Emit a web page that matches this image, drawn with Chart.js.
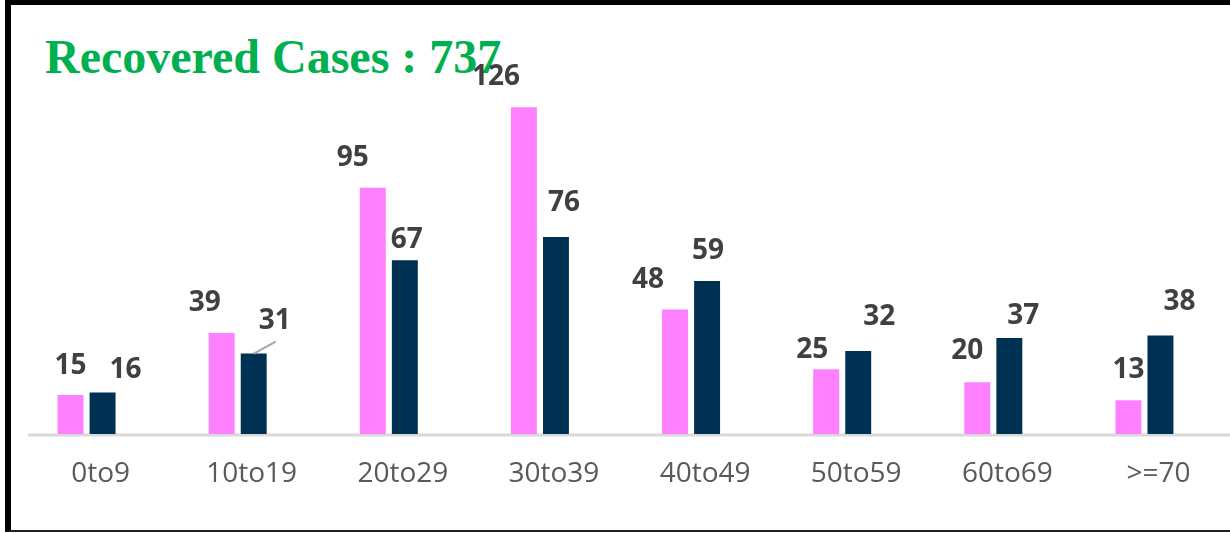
<!DOCTYPE html>
<html>
<head>
<meta charset="utf-8">
<script src="https://cdn.jsdelivr.net/npm/chart.js@4.4.1/dist/chart.umd.min.js"></script>
<style>
  html, body { margin: 0; padding: 0; background: #fff; overflow: hidden; }
  #wrap { position: relative; width: 1230px; height: 533px; }
  #frame {
    position: absolute; left: 5px; top: 0; width: 1240px; height: 532px;
    box-sizing: border-box;
    border-left: 6px solid #000; border-top: 5px solid #000; border-bottom: 2px solid #222;
  }
  #title {
    position: absolute; left: 45px; top: 29px; line-height: 48px; white-space: nowrap;
    font: bold 48px "Liberation Serif", "Times New Roman", serif; color: #00B050;
  }
  canvas { position: absolute; left: 0; top: 0; }
</style>
</head>
<body>
<div id="wrap">
  <div id="frame"></div>
  <div id="title">Recovered Cases : 737</div>
  <canvas id="chartCanvas" width="1230" height="533"></canvas>
</div>
<script>
// chart data
const ageGroups = ['0to9', '10to19', '20to29', '30to39', '40to49', '50to59', '60to69', '>=70'];
const pinkSeries = [15, 39, 95, 126, 48, 25, 20, 13];
const navySeries = [16, 31, 67, 76, 59, 32, 37, 38];

// label nudges [dx, gap above bar top], as placed in the original
const pinkLabelNudge = [[0, 21], [-17, 22], [-20, 22], [-28, 22], [-27, 22], [-14, 11], [-10, 23], [0, 22]];
const navyLabelNudge = [[23, 15], [21, 25], [2, 12], [8, 26], [1, 22], [21, 26], [14, 14], [19, 25]];
const navyLeader = [false, true, false, false, false, false, false, false];

// grey baseline under the bars
const baseLine = {
    id: 'baseLine',
    beforeDatasetsDraw(chart) {
        const ctx = chart.ctx;
        const y = chart.scales.y.getPixelForValue(0) + 1;
        ctx.save();
        ctx.strokeStyle = '#D9D9D9';
        ctx.lineWidth = 3;
        ctx.beginPath();
        ctx.moveTo(28, y);
        ctx.lineTo(chart.width, y);
        ctx.stroke();
        ctx.restore();
    }
};

// value labels above the bars
const barLabels = {
    id: 'barLabels',
    afterDatasetsDraw(chart) {
        const ctx = chart.ctx;
        ctx.save();
        ctx.font = 'bold 28px "Open Sans"';
        ctx.fillStyle = '#404040';
        ctx.textAlign = 'center';
        ctx.textBaseline = 'alphabetic';
        chart.data.datasets.forEach((ds, di) => {
            const meta = chart.getDatasetMeta(di);
            const nudge = di === 0 ? pinkLabelNudge : navyLabelNudge;
            meta.data.forEach((bar, i) => {
                const [dx, gap] = nudge[i];
                if (di === 1 && navyLeader[i]) {
                    ctx.strokeStyle = '#A6A6A6';
                    ctx.lineWidth = 2;
                    ctx.beginPath();
                    ctx.moveTo(bar.x, bar.y);
                    ctx.lineTo(bar.x + 22, bar.y - 12);
                    ctx.stroke();
                }
                ctx.fillText(ds.data[i], bar.x + dx, bar.y - gap);
            });
        });
        ctx.restore();
    }
};

function drawChart() {
    const ctx = document.getElementById('chartCanvas').getContext('2d');
    new Chart(ctx, {
        type: 'bar',
        data: {
            labels: ageGroups,
            datasets: [
                { label: 'Series 1', data: pinkSeries, backgroundColor: '#FF80FF', borderWidth: 0,
                  categoryPercentage: 0.424, barPercentage: 0.81 },
                { label: 'Series 2', data: navySeries, backgroundColor: '#003153', borderWidth: 0,
                  categoryPercentage: 0.424, barPercentage: 0.81 }
            ]
        },
        options: {
            responsive: false,
            animation: false,
            layout: { padding: { left: 11, right: 10, top: 71, bottom: 0 } },
            plugins: {
                legend: { display: false },
                tooltip: { enabled: false },
                title: { display: false }
            },
            scales: {
                x: {
                    grid: { display: false, drawTicks: false },
                    border: { display: false },
                    ticks: {
                        color: '#595959',
                        font: { family: 'Open Sans', size: 28 },
                        padding: 23,
                        labelOffset: 14,
                        maxRotation: 0,
                        autoSkip: false
                    },
                    afterFit(scale) { scale.height = 99; }
                },
                y: { display: false, min: 0, max: 140 }
            }
        },
        plugins: [baseLine, barLabels]
    });
}

Promise.all([
    document.fonts.load('bold 28px "Open Sans"'),
    document.fonts.load('28px "Open Sans"'),
    document.fonts.load('bold 48px "Liberation Serif"')
]).then(drawChart, drawChart);
</script>
</body>
</html>
